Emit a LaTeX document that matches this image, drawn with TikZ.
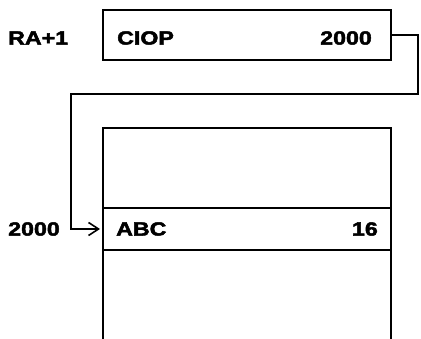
\documentclass[tikz,border=0pt]{standalone}
\usepackage{fontspec}
\newfontfamily\wordfont{Liberation Sans}[FakeStretch=1.22,FakeBold=2.5]
\usepackage{tikz}
\usetikzlibrary{positioning,arrows.meta}

\tikzset{
  cell/.style={draw, line width=1.6pt, minimum width=288pt, inner sep=0pt, outer sep=0pt},
  word/.style={font=\fontsize{19}{21}\wordfont\bfseries, inner sep=0pt},
  ptr/.style={line width=1.6pt, -{Straight Barb[length=10pt,width=13pt,line width=1.6pt]}, shorten >=3pt}
}

\begin{document}
\begin{tikzpicture}[x=1pt,y=-1pt]
\useasboundingbox (0,0) rectangle (421,339);
% instruction word
\node[cell, minimum height=50pt] (ciop) at (247,35) {};
\node[word, anchor=west] (op) at (117,38) {CIOP};
\node[word, anchor=east] (addr) at (372,38) {2000};
\node[word, anchor=west] (ra) at (8,38) {RA+1};
% storage
\node[cell, minimum height=42pt] (abc) at (247,229) {};
\node[word, anchor=west] (name) at (116,229) {ABC};
\node[word, anchor=east] (len) at (378,229) {16};
\node[word, anchor=west] (loc) at (8,229) {2000};
\draw[line width=1.6pt] (abc.north west) -- ++(0,-80) -- ++(288,0) -- (abc.north east);
\draw[line width=1.6pt] (abc.south west) -- ++(0,90);
\draw[line width=1.6pt] (abc.south east) -- ++(0,90);
% pointer
\coordinate (turn) at (418,94);
\coordinate (drop) at (71,229);
\draw[ptr] (ciop.east) -| (turn) -| (drop) -- (abc.west);
\end{tikzpicture}
\end{document}
